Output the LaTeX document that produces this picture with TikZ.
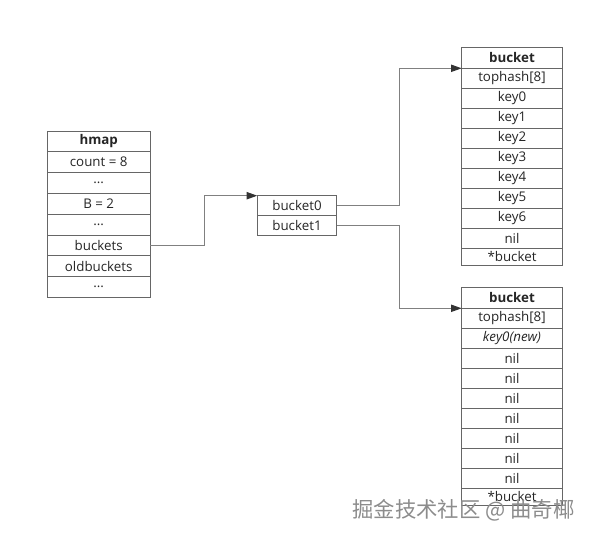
\documentclass[tikz,border=0pt]{standalone}
\usepackage{fontspec}
\setmainfont{Open Sans}
\newfontfamily\cjk{Noto Sans CJK SC}
\usetikzlibrary{positioning,arrows.meta}

\begin{document}
\begin{tikzpicture}[x=0.75pt, y=-0.75pt,
  cell/.style={draw=black!60, line width=0.6pt, fill=white, inner sep=0pt,
    outer sep=0pt, font=\fontsize{10}{12}\selectfont, text=black!85},
  hcell/.style={cell, minimum width=77.25pt, minimum height=15.6pt},
  acell/.style={cell, minimum width=59.6pt, minimum height=15pt},
  kcell/.style={cell, minimum width=75.5pt, minimum height=15pt},
  arr/.style={draw=black!50, line width=0.75pt,
    -{Triangle[length=8pt, width=5.5pt, color=black!80]}}]
  \useasboundingbox (0,0) rectangle (594,538);

  % hmap struct
  \node[hcell, anchor=north] (h0) at (98.7,131) {\textbf{hmap}};
  \node[hcell, below=0pt of h0] (h1) {count = 8};
  \node[hcell, below=0pt of h1] (h2) {...};
  \node[hcell, below=0pt of h2] (h3) {B = 2};
  \node[hcell, below=0pt of h3] (h4) {...};
  \node[hcell, below=0pt of h4] (h5) {buckets};
  \node[hcell, below=0pt of h5] (h6) {oldbuckets};
  \node[hcell, below=0pt of h6] (h7) {...};

  % bucket array
  \node[acell, anchor=north] (b0) at (297,195.7) {bucket0};
  \node[acell, below=0pt of b0] (b1) {bucket1};

  % bucket0
  \node[kcell, anchor=north, minimum height=15.75pt] (t0) at (512,47.3) {\textbf{bucket}};
  \node[kcell, below=0pt of t0] (t1) {tophash[8]};
  \node[kcell, below=0pt of t1] (t2) {key0};
  \node[kcell, below=0pt of t2] (t3) {key1};
  \node[kcell, below=0pt of t3] (t4) {key2};
  \node[kcell, below=0pt of t4] (t5) {key3};
  \node[kcell, below=0pt of t5] (t6) {key4};
  \node[kcell, below=0pt of t6] (t7) {key5};
  \node[kcell, below=0pt of t7] (t8) {key6};
  \node[kcell, below=0pt of t8] (t9) {nil};
  \node[kcell, below=0pt of t9, minimum height=13pt] (t10) {*bucket};

  % bucket1
  \node[kcell, anchor=north, minimum height=15.75pt] (u0) at (512,287.3) {\textbf{bucket}};
  \node[kcell, below=0pt of u0] (u1) {tophash[8]};
  \node[kcell, below=0pt of u1] (u2) {\textit{key0(new)}};
  \node[kcell, below=0pt of u2] (u3) {nil};
  \node[kcell, below=0pt of u3] (u4) {nil};
  \node[kcell, below=0pt of u4] (u5) {nil};
  \node[kcell, below=0pt of u5] (u6) {nil};
  \node[kcell, below=0pt of u6] (u7) {nil};
  \node[kcell, below=0pt of u7] (u8) {nil};
  \node[kcell, below=0pt of u8] (u9) {nil};
  \node[kcell, below=0pt of u9, minimum height=13pt] (u10) {*bucket};

  \draw[arr] (h5.east) -- ++(54,0) |- (b0.north west);
  \draw[arr] (b0.east) -- ++(62.6,0) |- (t0.south west);
  \draw[arr] (b1.east) -- ++(62.6,0) |- (u0.south west);

  \node[font=\cjk\fontsize{16}{16}\selectfont, text=black!45] (mark) at (463.5,510)
    {掘金技术社区 @ 曲奇椰};
\end{tikzpicture}
\end{document}
